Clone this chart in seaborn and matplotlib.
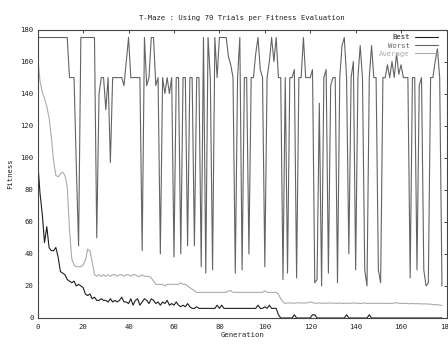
import matplotlib
matplotlib.use("Agg")
import matplotlib.pyplot as plt
import pandas as pd
import seaborn as sns

# ── data ──────────────────────────────────────────────────────────────────────

generation = list(range(179))

best = [
    98, 78, 65, 47, 57, 44, 42, 42, 44, 38,
    29, 28, 27, 24, 23, 22, 23, 20, 21, 20,
    19, 15, 14, 15, 12, 13, 11, 11, 12, 11,
    11, 10, 12, 10, 11, 10, 11, 13, 10, 10,
    9, 12, 8, 11, 12, 8, 10, 12, 11, 9,
    12, 11, 9, 10, 8, 10, 9, 11, 8, 9,
    8, 10, 8, 7, 8, 7, 9, 7, 6, 6,
    7, 6, 6, 6, 6, 6, 6, 6, 6, 8,
    6, 8, 6, 6, 6, 6, 6, 6, 6, 6,
    6, 6, 6, 6, 6, 6, 6, 8, 6, 6,
    7, 6, 8, 6, 6, 6, 2, 0, 0, 0,
    0, 0, 0, 2, 0, 0, 0, 0, 0, 0,
    0, 2, 2, 0, 0, 0, 0, 0, 0, 0,
    0, 0, 0, 0, 0, 0, 2, 0, 0, 0,
    0, 0, 0, 0, 0, 0, 2, 0, 0, 0,
    0, 0, 0, 0, 0, 0, 0, 0, 0, 0,
    0, 0, 0, 0, 0, 0, 0, 0, 0, 0,
    0, 0, 0, 0, 0, 0, 0, 0, 0,
]

worst = [
    175, 175, 175, 175, 175, 175, 175, 175, 175, 175,
    175, 175, 175, 175, 150, 150, 150, 95, 45, 175,
    175, 175, 175, 175, 175, 175, 50, 140, 150, 150,
    130, 150, 97, 150, 150, 150, 150, 150, 145, 160,
    175, 150, 150, 150, 150, 150, 42, 175, 145, 150,
    175, 175, 145, 150, 40, 150, 140, 150, 140, 150,
    38, 150, 150, 40, 150, 150, 45, 150, 150, 45,
    150, 150, 32, 175, 28, 175, 150, 30, 175, 150,
    175, 175, 175, 175, 163, 158, 150, 28, 150, 175,
    30, 150, 150, 40, 150, 150, 165, 175, 155, 150,
    32, 150, 160, 175, 160, 175, 150, 150, 24, 150,
    28, 150, 150, 155, 25, 150, 150, 175, 150, 150,
    150, 155, 22, 24, 134, 20, 150, 155, 28, 145,
    150, 150, 22, 150, 170, 175, 150, 40, 150, 160,
    30, 150, 170, 150, 30, 20, 150, 170, 150, 150,
    30, 22, 150, 150, 158, 150, 160, 150, 165, 152,
    158, 150, 150, 150, 25, 150, 150, 30, 145, 150,
    30, 20, 22, 150, 150, 160, 168, 150, 20,
]

average = [
    163, 148, 141, 137, 132, 125, 113, 98, 89, 88,
    90, 91, 89, 82, 55, 37, 33, 32, 32, 32,
    33, 36, 43, 42, 35, 27, 26, 27, 26, 27,
    26, 27, 26, 27, 27, 26, 27, 27, 26, 27,
    27, 26, 27, 27, 26, 26, 27, 26, 26, 26,
    25, 23, 21, 21, 21, 21, 20, 21, 21, 21,
    21, 21, 21, 22, 21, 21, 20, 19, 18, 17,
    16, 16, 16, 16, 16, 16, 16, 16, 16, 16,
    16, 16, 16, 16, 17, 17, 16, 16, 16, 16,
    16, 16, 16, 16, 16, 16, 16, 16, 16, 16,
    17, 16, 16, 16, 16, 16, 15, 12, 10, 9,
    9.5, 9.3, 9.4, 9.2, 9.4, 9.6, 9.3, 9.4, 9.3, 9.6,
    10, 9.6, 9.2, 9.3, 9.4, 9.2, 9.3, 9.1, 9.4, 9.3,
    9.2, 9.3, 9.1, 9.4, 9.0, 9.2, 9.3, 9.1, 9.2, 9.4,
    9.1, 9.3, 9.0, 9.2, 9.4, 9.1, 9.3, 9.0, 9.2, 9.1,
    9.3, 9.0, 9.2, 9.1, 9.0, 9.2, 9.1, 9.3, 9.6, 9.2,
    9.1, 9.0, 9.2, 9.0, 8.9, 9.1, 8.9, 9.0, 8.8, 8.9,
    8.7, 8.9, 8.6, 8.7, 8.3, 8.5, 8.2, 8.1, 7.8,
]

series_names = ["Best", "Worst", "Average"]
x_ticks = list(range(0, 181, 20))
y_ticks = list(range(0, 181, 20))

PALETTE = {
    "Best":    "#1e1e1e",
    "Worst":   "#646464",
    "Average": "#ababab",
}

FS = 5.2

# ── plot ──────────────────────────────────────────────────────────────────────

sns.set_style("white")
plt.rcParams["font.family"] = ["DejaVu Sans Mono"]

n = len(generation)
df = pd.DataFrame({
    "Generation": generation * 3,
    "Fitness": best + worst + average,
    "series": [s for s in series_names for _ in range(n)],
})

fig = plt.figure(figsize=(4.48, 3.44), dpi=100)
ax = fig.add_axes([37.7 / 448, 26 / 344, 408.8 / 448, 288.5 / 344])

sns.lineplot(
    data=df, x="Generation", y="Fitness", hue="series",
    hue_order=series_names, palette=PALETTE, estimator=None,
    linewidth=0.8, ax=ax,
)

ax.set_xlim(0, 180)
ax.set_ylim(0, 180)
ax.set_xticks(x_ticks)
ax.set_yticks(y_ticks)
ax.tick_params(direction="in", top=True, right=True, length=2.5, width=0.6,
               labelsize=FS, colors="#222222", pad=3)
ax.tick_params(axis="x", pad=4)
for sp in ax.spines.values():
    sp.set_color("#444444")
    sp.set_linewidth(0.8)

ax.set_title("T-Maze : Using 70 Trials per Fitness Evaluation",
             fontsize=FS, color="#222222", pad=6.5)
ax.set_xlabel("Generation", fontsize=FS, color="#222222", labelpad=2)
ax.set_ylabel("Fitness", fontsize=FS, color="#222222", labelpad=5)

handles, labels = ax.get_legend_handles_labels()
ax.legend(
    handles, labels, loc="upper right", bbox_to_anchor=(0.979, 0.984),
    frameon=False, markerfirst=False, labelcolor="linecolor",
    fontsize=FS, handlelength=3.2, handletextpad=0.7,
    borderaxespad=0, borderpad=0, labelspacing=0.32,
)

fig.savefig("out.png", dpi=100)
